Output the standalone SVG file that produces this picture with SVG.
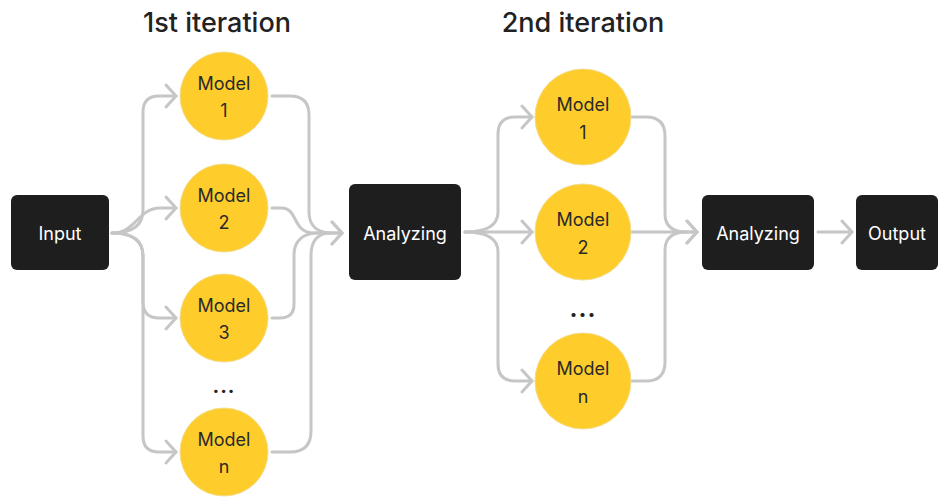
<svg xmlns="http://www.w3.org/2000/svg" width="943" height="498" viewBox="0 0 943 498">
<style>
.box{fill:#1e1e1e;}
.btxt{fill:#ffffff;font-family:Inter,"Liberation Sans",sans-serif;font-size:18px;text-anchor:middle;dominant-baseline:central;}
.circ{fill:#fecd2b;stroke:#f3dc8c;stroke-width:1;}
.ctxt{fill:#2a2a2a;font-family:Inter,"Liberation Sans",sans-serif;font-size:18px;text-anchor:middle;dominant-baseline:central;}
.title{fill:#222222;font-family:Inter,"Liberation Sans",sans-serif;font-size:27px;font-weight:500;text-anchor:middle;}
.dots{fill:#222222;font-family:Inter,"Liberation Sans",sans-serif;font-weight:700;text-anchor:middle;letter-spacing:1px;}
.conn{fill:none;stroke:#c6c6c6;stroke-width:3;stroke-linecap:round;stroke-linejoin:round;}
</style>
<defs>
<marker id="arr" markerUnits="userSpaceOnUse" markerWidth="16" markerHeight="26" refX="12" refY="13" orient="auto">
<path d="M2,2 L12,13 L2,24" fill="none" stroke="#c6c6c6" stroke-width="3" stroke-linecap="round" stroke-linejoin="round"/>
</marker>
</defs>

<text class="title" x="217" y="32">1st iteration</text>
<text class="title" x="583" y="32">2nd iteration</text>

<g id="connectors">
<path class="conn" marker-end="url(#arr)" d="M112,233 C132,233 143,226 143,210 L143,112 Q143,96 159,96 L176,96"/>
<path class="conn" marker-end="url(#arr)" d="M112,233 C136,233 138,208 160,208 L176,208"/>
<path class="conn" marker-end="url(#arr)" d="M112,233 C132,233 143,240 143,256 L143,302 Q143,318 159,318 L176,318"/>
<path class="conn" marker-end="url(#arr)" d="M112,233 C132,233 143,240 143,256 L143,436 Q143,452 159,452 L176,452"/>

<path class="conn" marker-end="url(#arr)" d="M272,96 L290,96 Q309,96 309,115 L309,212 C309,226 318,233 332,233 L342,233"/>
<path class="conn" marker-end="url(#arr)" d="M272,208 L282,208 C298,208 292,233 314,233 L342,233"/>
<path class="conn" d="M272,318 L280,318 Q294,318 294,304 L294,255 C294,240 304,233 318,233"/>
<path class="conn" d="M272,452 L290,452 Q311,452 311,431 L311,255 C311,241 318,233 330,233"/>

<path class="conn" marker-end="url(#arr)" d="M465,232 C485,232 498,226 498,212 L498,134 Q498,117 515,117 L532,117"/>
<path class="conn" marker-end="url(#arr)" d="M465,232 L532,232"/>
<path class="conn" marker-end="url(#arr)" d="M465,232 C485,232 498,238 498,252 L498,364 Q498,381 515,381 L532,381"/>

<path class="conn" marker-end="url(#arr)" d="M632,117 L646,117 Q665,117 665,136 L665,214 C665,227 674,232 687,232 L697,232"/>
<path class="conn" marker-end="url(#arr)" d="M632,232 L697,232"/>
<path class="conn" d="M632,381 L646,381 Q665,381 665,362 L665,250 C665,237 674,232 687,232"/>

<path class="conn" marker-end="url(#arr)" d="M818,232 L852,232"/>
</g>

<g id="input"><rect class="box" x="11" y="195" width="98" height="75" rx="6"/><text class="btxt" x="60" y="233">Input</text></g>

<g id="m1-1"><circle class="circ" cx="224" cy="96" r="44"/><text class="ctxt" x="224" y="83">Model</text><text class="ctxt" x="224" y="110">1</text></g>
<g id="m1-2"><circle class="circ" cx="224" cy="208" r="44"/><text class="ctxt" x="224" y="195">Model</text><text class="ctxt" x="224" y="222">2</text></g>
<g id="m1-3"><circle class="circ" cx="224" cy="318" r="44"/><text class="ctxt" x="224" y="305">Model</text><text class="ctxt" x="224" y="332">3</text></g>
<g id="dots1"><text class="dots" x="224" y="393" font-size="20">...</text></g>
<g id="m1-n"><circle class="circ" cx="224" cy="452" r="44"/><text class="ctxt" x="224" y="439">Model</text><text class="ctxt" x="224" y="466">n</text></g>

<g id="analyzing1"><rect class="box" x="349" y="184" width="112" height="96" rx="6"/><text class="btxt" x="405" y="233">Analyzing</text></g>

<g id="m2-1"><circle class="circ" cx="583" cy="117" r="48"/><text class="ctxt" x="583" y="104">Model</text><text class="ctxt" x="583" y="132">1</text></g>
<g id="m2-2"><circle class="circ" cx="583" cy="232" r="48"/><text class="ctxt" x="583" y="219">Model</text><text class="ctxt" x="583" y="247">2</text></g>
<g id="dots2"><text class="dots" x="583" y="317" font-size="24">...</text></g>
<g id="m2-n"><circle class="circ" cx="583" cy="381" r="48"/><text class="ctxt" x="583" y="368">Model</text><text class="ctxt" x="583" y="396">n</text></g>

<g id="analyzing2"><rect class="box" x="702" y="195" width="112" height="75" rx="6"/><text class="btxt" x="758" y="233">Analyzing</text></g>
<g id="output"><rect class="box" x="856" y="195" width="82" height="75" rx="6"/><text class="btxt" x="897" y="233">Output</text></g>
</svg>
